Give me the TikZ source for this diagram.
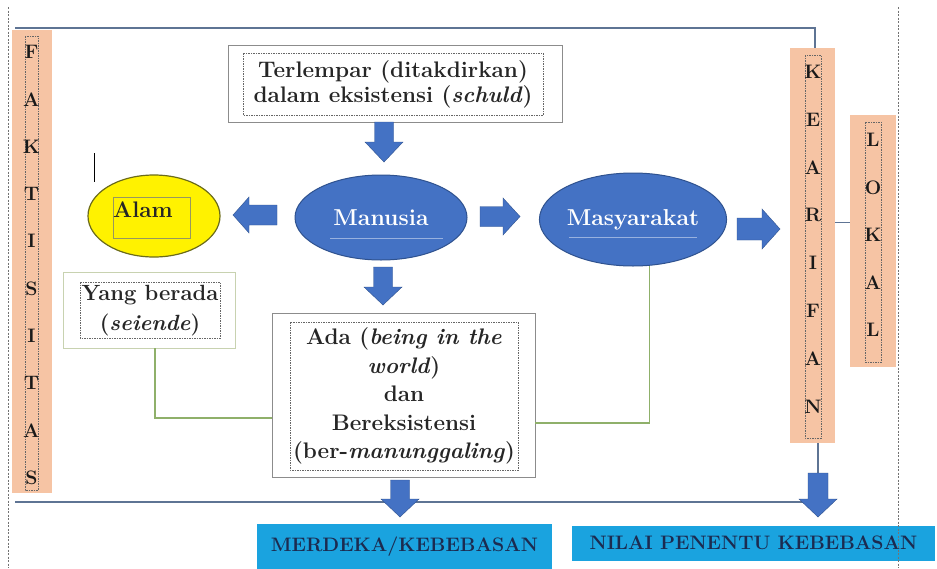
\documentclass[tikz,border=0pt]{standalone}
\usetikzlibrary{shapes.geometric}
\definecolor{barfill}{HTML}{F6C4A4}
\definecolor{ablue}{HTML}{4472C4}
\definecolor{aedge}{HTML}{2F528F}
\definecolor{frameline}{HTML}{5E7494}
\definecolor{gline}{HTML}{8FB06A}
\definecolor{cyanbox}{HTML}{1AA3DF}
\definecolor{navy}{HTML}{1C2B50}
\definecolor{boxedge}{HTML}{8C8C8C}
\definecolor{ybedge}{HTML}{C8D2B0}
\definecolor{olive}{HTML}{6B6B1A}
\begin{document}
\begin{tikzpicture}[x=1pt,y=-1pt,
  txt/.style={font=\bfseries\fontsize{22.5}{26}\selectfont, text=black!85, align=center},
  outbox/.style={draw=boxedge, line width=0.8pt, fill=white, inner sep=0pt},
  dashbox/.style={draw=black!60, line width=0.4pt, dash pattern=on 1.5pt off 1pt},
  bar/.style={fill=barfill, draw=none, inner sep=0pt},
  letter/.style={font=\bfseries\fontsize{19.5}{19.5}\selectfont, text=black!90},
  oval/.style={ellipse, fill=ablue, draw=aedge, line width=1pt, text=white, font=\bfseries\fontsize{23}{26}\selectfont, inner sep=0pt},
  frame/.style={draw=frameline, line width=2.4pt},
  green/.style={draw=gline, line width=1.2pt},
  result/.style={fill=cyanbox, text=navy, font=\bfseries\fontsize{19.5}{22}\selectfont, inner sep=0pt},
  pageedge/.style={draw=black!55, line width=0.5pt, dash pattern=on 2pt off 1.5pt},
  pics/barr/.style n args={4}{code={
    \filldraw[fill=ablue, draw=aedge, line width=0.4pt]
      (-#1/2,-#2/2) -- (#1/2-#4,-#2/2) -- (#1/2-#4,-#3/2) -- (#1/2,0)
      -- (#1/2-#4,#3/2) -- (#1/2-#4,#2/2) -- (-#1/2,#2/2) -- cycle;
  }}
]
\useasboundingbox (0,0) rectangle (937,568);
\fill[white] (0,0) rectangle (937,568);

% page edge
\draw[pageedge] (8,7) -- (8,568);

% bars
\node[bar, minimum width=40pt, minimum height=463pt] (fak) at (32,261.5) {};
\draw[dashbox] (25,36) rectangle (38,490);
\foreach \l [count=\i from 0] in {F,A,K,T,I,S,I,T,A,S}
  \node[letter] at (31.5,{52+47.3*\i}) {\l};

\node[bar, minimum width=45pt, minimum height=395pt] (kear) at (812.5,245.5) {};
\draw[dashbox] (805,55) rectangle (821,438);
\foreach \l [count=\i from 0] in {K,E,A,R,I,F,A,N}
  \node[letter] at (813,{72+47.8*\i}) {\l};

\node[bar, minimum width=46pt, minimum height=252pt] (lok) at (873,241) {};
\draw[dashbox] (865,122) rectangle (881,362);
\foreach \l [count=\i from 0] in {L,O,K,A,L}
  \node[letter] at (873,{140+47.5*\i}) {\l};

% frame lines
\coordinate (tl) at (15,28);
\coordinate (bl) at (15,502);
\coordinate (kt) at (815,0);
\draw[frame] (tl) -| (kt |- kear.north);
\coordinate (kl) at (0,222);
\draw[draw=frameline, line width=1pt] (kl -| kear.east) -- (kl -| lok.west);

% top box
\node[outbox, minimum width=334pt, minimum height=77pt] (terl) at (395,84) {};
\draw[dashbox] (243,53) rectangle (543,115);
\node[txt, font=\bfseries\fontsize{22.5}{25}\selectfont] at (393,84) {Terlempar (ditakdirkan)\\dalam eksistensi (\textit{schuld})};

% ovals
\node[oval, minimum width=172pt, minimum height=85pt] (man) at (381,217.5) {Manusia};
\draw[ablue!55!white, line width=0.8pt] (330,238) -- (443,238);
\node[oval, minimum width=180pt, minimum height=93pt] (masy) at (633,219.5) {Masyarakat};
\draw[ablue!55!white, line width=0.8pt] (569,237) -- (697,237);
\node[ellipse, fill=yellow, draw=olive, line width=1.2pt, minimum width=132pt, minimum height=82pt] (alam) at (154,216) {};
\draw[draw=olive!70, line width=0.5pt] (113,197) rectangle (190,238);
\node[txt] at (143,210) {Alam};
\draw[black, line width=1pt] (94,153) -- (94,182);

% Yang berada
\node[outbox, draw=ybedge, minimum width=172pt, minimum height=76pt] (yb) at (149,310) {};
\draw[dashbox] (80,282) rectangle (220,338);
\node[txt, font=\bfseries\fontsize{22}{30}\selectfont] at (150,311) {Yang berada\\(\textit{seiende})};

% Ada box
\node[outbox, minimum width=263pt, minimum height=164pt] (ada) at (403.5,395) {};
\draw[dashbox] (290,322) rectangle (518,470);
\node[txt, font=\bfseries\fontsize{22.5}{28.5}\selectfont] at (404,396) {Ada (\textit{being in the}\\\textit{world})\\dan\\Bereksistensi\\(ber-\textit{manunggaling})};

% green connectors
\coordinate (gl) at (0,418);
\coordinate (gr) at (0,423);
\draw[green] (yb.south -| 155,0) |- (gl -| ada.west);
\draw[green] (gr -| ada.east) -| (masy.-70);

% bottom frame line
\draw[frame] (bl) -- (815,502);

% results
\node[result, minimum width=295pt, minimum height=45pt] (merd) at (404.5,546.5) {MERDEKA/KEBEBASAN};
\node[result, minimum width=363pt, minimum height=35pt] (nilai) at (753.5,543) {NILAI PENENTU KEBEBASAN};

% block arrows
\pic[rotate=-90] (a1) at (384,142) {barr={40}{19}{38}{20}};
\pic[rotate=180] (a2) at (255,215) {barr={44}{20}{36}{16}};
\pic (a3) at (500,216.5) {barr={40}{20}{37}{17}};
\pic[rotate=-90] (a4) at (383,286) {barr={38}{19}{38}{18}};
\pic (a5) at (758.5,229) {barr={43}{22}{40}{18}};
\pic[rotate=-90] (a6) at (400,498.5) {barr={37}{19}{38}{18}};
\coordinate (ka) at (818,0);
\draw[draw=frameline, line width=1.5pt] (ka |- kear.south) -- (818,478);
\pic[rotate=-90] (a7) at (818,495) {barr={44}{20}{38}{18}};

\draw[pageedge] (898,7) -- (898,568);
\end{tikzpicture}
\end{document}
